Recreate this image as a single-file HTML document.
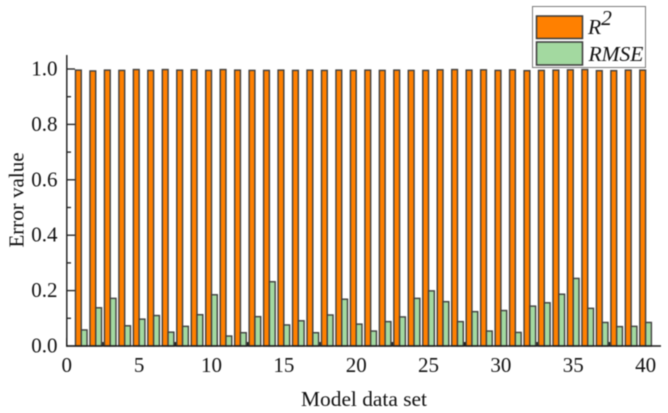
<!DOCTYPE html>
<html>
<head>
<meta charset="utf-8">
<style>
html,body{margin:0;padding:0;background:#fff;width:668px;height:413px;overflow:hidden}
svg{display:block;filter:blur(0.45px)}
text{font-family:"Liberation Serif",serif;fill:#111}
</style>
</head>
<body>
<svg id="chart" xmlns="http://www.w3.org/2000/svg" width="668" height="413" viewBox="0 0 668 413">
<g id="ticks"></g>
<g id="bars"></g>
<g id="axes"></g>
<g id="labels"></g>
<text transform="translate(23.5,200) rotate(-90)" text-anchor="middle" font-size="21">Error value</text>
<text x="364" y="406" text-anchor="middle" font-size="21.4">Model data set</text>
<g>
<rect x="532.5" y="6.5" width="113" height="61" fill="#fff" stroke="#7a7a7a" stroke-width="1"/>
<rect x="536.5" y="16" width="46" height="22.5" fill="#ff8000" stroke="#3a3a3a" stroke-width="1.5"/>
<rect x="536.5" y="42" width="46" height="23" fill="#a3d9a0" stroke="#3a3a3a" stroke-width="1.5"/>
<text x="588" y="34" font-size="21.5" font-style="italic">R<tspan dy="-9" font-size="21.5">2</tspan></text>
<text x="588.5" y="61" font-size="21.5" font-style="italic">RMSE</text>
</g>
</svg>
<script>
const categories = [1,2,3,4,5,6,7,8,9,10,11,12,13,14,15,16,17,18,19,20,21,22,23,24,25,26,27,28,29,30,31,32,33,34,35,36,37,38,39,40];
const r2Values = [0.996,0.993,0.996,0.995,0.998,0.995,0.998,0.996,0.997,0.995,0.998,0.996,0.995,0.995,0.996,0.995,0.996,0.995,0.996,0.995,0.996,0.995,0.996,0.995,0.995,0.997,0.998,0.996,0.997,0.995,0.997,0.994,0.995,0.996,0.997,0.998,0.994,0.994,0.996,0.996];
const rmseValues = [0.058,0.138,0.172,0.073,0.097,0.110,0.050,0.071,0.113,0.185,0.036,0.048,0.106,0.232,0.076,0.091,0.048,0.112,0.169,0.079,0.054,0.088,0.105,0.172,0.199,0.160,0.088,0.124,0.054,0.128,0.049,0.144,0.156,0.187,0.244,0.136,0.085,0.070,0.071,0.085];
const yTickLabels = ["0.0","0.2","0.4","0.6","0.8","1.0"];
const xTickLabels = ["0","5","10","15","20","25","30","35","40"];

const NS = "http://www.w3.org/2000/svg";
const xScale = v => 66.8 + v * 14.47;
const yScale = v => 346 - v * 277;
const barW = 0.4 * 14.47;

function make(tag, parent, attrs) {
  const el = document.createElementNS(NS, tag);
  for (const k in attrs) el.setAttribute(k, attrs[k]);
  parent.appendChild(el);
  return el;
}
const ticks = document.getElementById("ticks");
const bars = document.getElementById("bars");
const axes = document.getElementById("axes");
const labels = document.getElementById("labels");

yTickLabels.forEach(function (t, i) {
  const v = parseFloat(t);
  const tick = make("line", ticks, {x1:66.8, x2:75, y1:yScale(v), y2:yScale(v), stroke:"#1c1c1c", "stroke-width":1.3});
  
  
  if (i < yTickLabels.length - 1) {
    const minor = make("line", ticks, {x1:66.8, x2:71, y1:yScale(v + 0.1), y2:yScale(v + 0.1), stroke:"#1c1c1c", "stroke-width":1.3});
    
    
  }
  const lab = make("text", labels, {x:57.5, y:yScale(v) + 6.5, "text-anchor":"end", "font-size":21});
  lab.textContent = t;
  
  
});

xTickLabels.forEach(function (t, i) {
  const v = parseFloat(t);
  const tick = make("line", ticks, {x1:xScale(v), x2:xScale(v), y1:346, y2:338, stroke:"#1c1c1c", "stroke-width":1.3});
  
  
  if (i < xTickLabels.length - 1) {
    const minor = make("line", ticks, {x1:xScale(v + 2.5), x2:xScale(v + 2.5), y1:346, y2:342, stroke:"#1c1c1c", "stroke-width":1.6});
    
    
  }
  const lab = make("text", labels, {x:xScale(v), y:372, "text-anchor":"middle", "font-size":21});
  lab.textContent = t;
  
  
});

categories.forEach(function (c, i) {
  const r = make("rect", bars, {x:xScale(c) - barW, y:yScale(r2Values[i]), width:barW, height:yScale(0) - yScale(r2Values[i]), fill:"#ff8000", stroke:"#3f3f3f", "stroke-width":1.4});
  
  
  const g = make("rect", bars, {x:xScale(c), y:yScale(rmseValues[i]), width:barW, height:yScale(0) - yScale(rmseValues[i]), fill:"#a3d9a0", stroke:"#3f3f3f", "stroke-width":1.4});
  
  
});

const yAxis = make("line", axes, {x1:66.8, x2:66.8, y1:55, y2:346.7, stroke:"#1c1c1c", "stroke-width":1.4});


const xAxis = make("line", axes, {x1:66.1, x2:661, y1:346, y2:346, stroke:"#1c1c1c", "stroke-width":1.4});


</script>
</body>
</html>
